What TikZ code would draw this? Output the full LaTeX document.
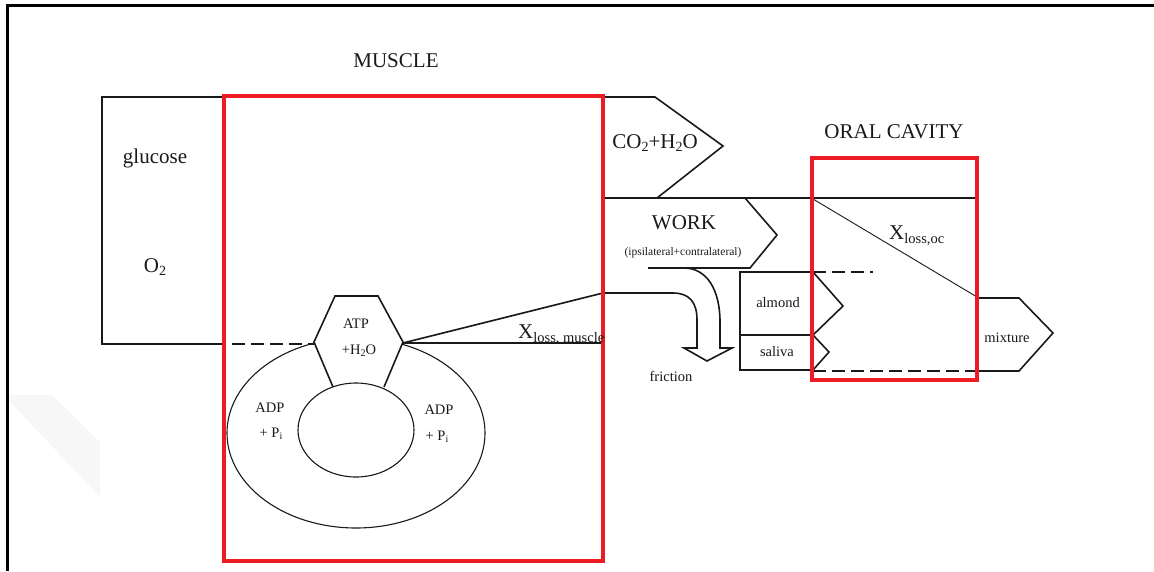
\documentclass[tikz,border=0pt]{standalone}
\usepackage{fontspec}
\setmainfont{Liberation Serif}
\definecolor{boxred}{RGB}{237,28,36}
\definecolor{ink}{RGB}{25,25,25}
\newcommand{\dn}[3]{\raisebox{#2}{\fontsize{#1}{#1}\selectfont #3}}
\tikzset{
  line/.style={line width=1.6pt, draw=ink},
  thinline/.style={line width=1.1pt, draw=ink},
  redbox/.style={draw=boxred, line width=3.6pt},
  dashline/.style={line width=1.6pt, draw=ink, dash pattern=on 13pt off 6pt},
  big/.style={font=\fontsize{21}{24}\selectfont, inner sep=0pt, text=ink},
  small/.style={font=\fontsize{14.5}{16}\selectfont, inner sep=0pt, text=ink},
  tiny/.style={font=\fontsize{11.5}{13}\selectfont, inner sep=0pt, text=ink},
}
\begin{document}
\begin{tikzpicture}[x=1pt,y=-1pt]
\useasboundingbox (0,0) rectangle (1154,571);
% faint watermark
\fill[gray!6] (5,395) -- (52,395) -- (100,442) -- (100,497) -- (10,402) -- cycle;
% frame
\draw[line width=3pt] (6.5,5) -- (1154,5);
\draw[line width=2.6pt] (7.5,4) -- (7.5,571);
% glucose box
\draw[line] (224,97) -- (102,97) -- (102,344) -- (224,344);
\draw[dashline] (232,344) -- (314,344);
% CO2 arrow
\draw[line] (603,97) -- (655,97) -- (723,146) -- (657,198);
\draw[line] (603,198) -- (976,198);
% WORK arrow
\draw[line] (745,198) -- (777,235) -- (750,268) -- (648,268);
% friction arrow
\draw[line] (684,268) .. controls (707,268) and (720,290) .. (720,322) -- (720,348) -- (732,348) -- (707,361) -- (684,348) -- (697,348) -- (697,320) .. controls (697,303) and (690,293) .. (673,293) -- (603,293);
% loss lines from hexagon
\coordinate (hexR) at (403,343);
\coordinate (lossT) at (603,293);
\coordinate (lossB) at (603,343);
\draw[line] (hexR) -- (lossB);
\draw[line] (hexR) -- (lossT);
% almond / saliva
\draw[line] (813,272) -- (740,272) -- (740,370) -- (813,370);
\draw[line] (740,335) -- (813,335);
\draw[line] (813,272) -- (843,306) -- (813,335) -- (829,352) -- (813,370);
\draw[dashline] (813,272) -- (873,272);
\draw[dashline] (813,371) -- (965,371);
% mixture
\draw[line] (978,298) -- (1019,298) -- (1053,333) -- (1019,371) -- (965,371);
% oral cavity loss diagonal
\draw[line width=0.9pt, draw=ink] (813,199) -- (977,297);
% ellipses and hexagon
\draw[thinline] (356,433) ellipse [x radius=129pt, y radius=95pt];
\fill[white] (333,387) -- (314,342) -- (335,296) -- (378,296) -- (403,342) -- (384,387) -- cycle;
\draw[thinline] (356,430) ellipse [x radius=58pt, y radius=47pt];
\draw[line] (333,387) -- (314,342) -- (335,296) -- (378,296) -- (403,342) -- (384,387);
% red boxes
\draw[redbox] (224,96) rectangle (603,561);
\draw[redbox] (812,158) rectangle (977,380);
% labels
\node[big, anchor=base] (muscle) at (396,67) {MUSCLE};
\node[big, anchor=base] (oral) at (894,138) {ORAL CAVITY};
\node[big, anchor=base] (glucose) at (155,163) {glucose};
\node[big, anchor=base] (otwo) at (155,272) {O\dn{14}{-3pt}{2}};
\node[big, anchor=base] (co2) at (655,148) {CO\dn{14}{-3pt}{2}+H\dn{14}{-3pt}{2}O};
\node[big, anchor=base] (work) at (684,229) {WORK};
\node[tiny, anchor=base] (ipsi) at (683,255) {(ipsilateral+contralateral)};
\node[small, anchor=base] (almond) at (778,307) {almond};
\node[small, anchor=base] (saliva) at (777,356) {saliva};
\node[small, anchor=base] (friction) at (671,381) {friction};
\node[small, anchor=base] (mixture) at (1007,342) {mixture};
\node[small, anchor=base] (atp) at (356,328) {ATP};
\node[small, anchor=base] (hto) at (359,354) {+H\dn{10}{-2pt}{2}O};
\node[small, anchor=base] (adpl) at (270,412) {ADP};
\node[small, anchor=base] (pil) at (271,437) {+ P\dn{10}{-2pt}{i}};
\node[small, anchor=base] (adpr) at (439,414) {ADP};
\node[small, anchor=base] (pir) at (437,440) {+ P\dn{10}{-2pt}{i}};
\node[big, anchor=base west] (xm) at (518,338) {X\dn{14.5}{-4pt}{loss, muscle}};
\node[big, anchor=base west] (xoc) at (889,239) {X\dn{14.5}{-4pt}{loss,oc}};
\end{tikzpicture}
\end{document}
